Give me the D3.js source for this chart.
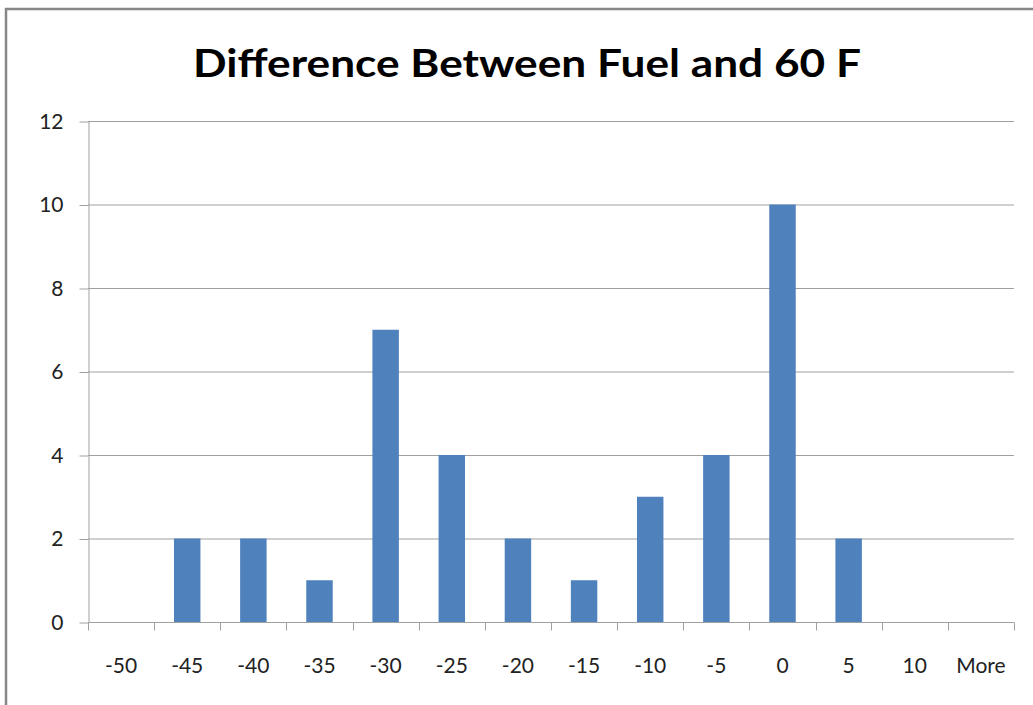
<!DOCTYPE html>
<html lang="en">
  <head>
    <meta charset="utf-8">
    <title>Difference Between Fuel and 60 F</title>
    <style>
      body { margin: 0; background: #fff; }
      text { font-family: Lato, "Open Sans", sans-serif; }
    </style>
  </head>
  <body>
    <script src="https://d3js.org/d3.v7.min.js"></script>
    <script>
    var categories = ["-50", "-45", "-40", "-35", "-30", "-25", "-20", "-15", "-10", "-5", "0", "5", "10", "More"];
    var counts = [0, 2, 2, 1, 7, 4, 2, 1, 3, 4, 10, 2, 0, 0];
    var yTicks = [0, 2, 4, 6, 8, 10, 12];

    var W = 1033, H = 705;
    var plotLeft = 88, plotRight = 1014, plotTop = 121, plotBottom = 622;

    var svg = d3.select("body").append("svg")
        .attr("width", W)
        .attr("height", H);

    // outer chart frame (right and bottom edges run off the picture)
    svg.append("path")
        .attr("d", "M6," + H + "V9H" + W)
        .attr("fill", "none")
        .attr("stroke", "#878787")
        .attr("stroke-width", 2.5);

    svg.append("text")
        .attr("x", 527)
        .attr("y", 77)
        .attr("text-anchor", "middle")
        .attr("font-size", 39)
        .attr("font-weight", "bold")
        .attr("textLength", 668)
        .attr("lengthAdjust", "spacingAndGlyphs")
        .text("Difference Between Fuel and 60 F");

    var x = d3.scaleBand()
        .domain(categories)
        .range([plotLeft, plotRight])
        .paddingInner(0.6)
        .paddingOuter(0.3);
    var xEdge = d3.scaleBand()
        .domain(categories)
        .range([plotLeft, plotRight]);
    var y = d3.scaleLinear()
        .domain([0, 12])
        .range([plotBottom, plotTop]);

    // gridlines
    svg.append("g")
        .selectAll("line")
        .data(yTicks.filter(function(d) { return d > 0; }))
        .enter()
        .append("line")
        .attr("x1", plotLeft)
        .attr("x2", plotRight)
        .attr("y1", function(d) { return y(d) + 0.5; })
        .attr("y2", function(d) { return y(d) + 0.5; })
        .attr("stroke", "#a0a0a0")
        .attr("stroke-width", 1);

    // bars
    svg.append("g")
        .selectAll("rect")
        .data(counts)
        .enter()
        .append("rect")
        .attr("x", function(d, i) { return x(categories[i]); })
        .attr("width", x.bandwidth())
        .attr("y", function(d) { return y(d); })
        .attr("height", function(d) { return plotBottom - y(d); })
        .attr("fill", "#4f81bd");

    // y axis
    var yAxis = svg.append("g")
        .attr("transform", "translate(" + (plotLeft + 0.5) + ",0.5)")
        .call(d3.axisLeft(y).tickValues(yTicks).tickSize(9).tickPadding(16).tickSizeOuter(0));
    yAxis.select(".domain").attr("stroke", "#a0a0a0");
    yAxis.selectAll(".tick line").attr("stroke", "#a0a0a0");
    yAxis.selectAll(".tick text")
        .attr("font-size", 21)
        .attr("fill", "#222")
        .attr("font-family", "Lato, sans-serif");

    // x axis: ticks on category edges, labels at centres
    var xAxisG = svg.append("g")
        .attr("transform", "translate(0," + (plotBottom + 0.5) + ")");
    xAxisG.append("line")
        .attr("x1", plotLeft)
        .attr("x2", plotRight)
        .attr("stroke", "#a0a0a0");
    xAxisG.selectAll("line.tick")
        .data(categories.concat(["end"]))
        .enter()
        .append("line")
        .attr("class", "tick")
        .attr("x1", function(d, i) { return Math.round(plotLeft + i * xEdge.step()) + 0.5; })
        .attr("x2", function(d, i) { return Math.round(plotLeft + i * xEdge.step()) + 0.5; })
        .attr("y1", 0)
        .attr("y2", 8)
        .attr("stroke", "#a0a0a0");
    xAxisG.selectAll("text")
        .data(categories)
        .enter()
        .append("text")
        .attr("x", function(d) { return xEdge(d) + xEdge.bandwidth() / 2; })
        .attr("y", 50)
        .attr("text-anchor", "middle")
        .attr("font-size", 21)
        .attr("fill", "#222")
        .text(function(d) { return d; });
    </script>
  </body>
</html>
